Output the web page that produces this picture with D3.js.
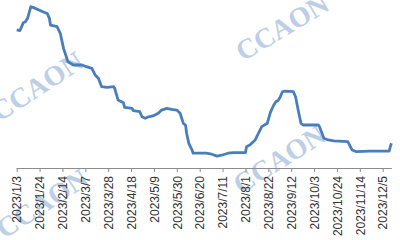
<!DOCTYPE html>
<html>
<head>
<meta charset="utf-8">
<script src="https://cdn.jsdelivr.net/npm/d3@7"></script>
<style>
  body { margin: 0; background: #fff; }
  svg { display: block; }
</style>
</head>
<body>
<div id="chart"></div>
<script>
// price series
var dates = [
  "2023-01-03", "2023-01-06", "2023-01-09", "2023-01-11", "2023-01-13", "2023-01-16", "2023-01-18",
  "2023-01-27", "2023-01-31", "2023-02-02", "2023-02-03", "2023-02-09", "2023-02-12", "2023-02-15",
  "2023-02-18", "2023-02-19", "2023-02-24", "2023-03-04", "2023-03-08", "2023-03-13", "2023-03-16",
  "2023-03-19", "2023-03-22", "2023-03-27", "2023-04-02", "2023-04-03", "2023-04-06", "2023-04-09",
  "2023-04-11", "2023-04-12", "2023-04-19", "2023-04-20", "2023-04-26", "2023-04-28", "2023-05-01",
  "2023-05-04", "2023-05-08", "2023-05-13", "2023-05-16", "2023-05-21", "2023-05-25", "2023-05-30",
  "2023-06-02", "2023-06-05", "2023-06-07", "2023-06-08", "2023-06-10", "2023-06-13", "2023-06-14",
  "2023-06-26", "2023-07-01", "2023-07-06", "2023-07-10", "2023-07-16", "2023-07-21", "2023-08-01",
  "2023-08-02", "2023-08-05", "2023-08-10", "2023-08-13", "2023-08-16", "2023-08-21", "2023-08-24",
  "2023-08-27", "2023-08-29", "2023-08-31", "2023-09-02", "2023-09-04", "2023-09-06", "2023-09-14",
  "2023-09-16", "2023-09-19", "2023-09-21", "2023-09-23", "2023-10-07", "2023-10-08", "2023-10-12",
  "2023-10-16", "2023-10-21", "2023-11-03", "2023-11-07", "2023-11-11", "2023-11-23", "2023-12-11",
  "2023-12-12", "2023-12-13"
];
var values = [
  8110, 8090, 8320, 8350, 8455, 8800, 8780,
  8650, 8600, 8455, 8255, 8205, 8010, 7560,
  7265, 7165, 7065, 7065, 7015, 6965, 6770,
  6670, 6420, 6400, 6420, 6370, 6025, 5975,
  5945, 5805, 5775, 5705, 5675, 5525, 5480,
  5525, 5550, 5630, 5725, 5775, 5745, 5725,
  5630, 5330, 5280, 5035, 4735, 4535, 4440,
  4440, 4410, 4355, 4380, 4440, 4455, 4455,
  4635, 4685, 4835, 5035, 5230, 5330, 5665,
  5875, 5975, 6005, 6120, 6270, 6290, 6270,
  6120, 5630, 5330, 5280, 5280, 5230, 4885,
  4835, 4805, 4785, 4535, 4485, 4505, 4505,
  4635, 4735
];
var tickLabels = [
  "2023/1/3", "2023/1/24", "2023/2/14", "2023/3/7", "2023/3/28", "2023/4/18", "2023/5/9",
  "2023/5/30", "2023/6/20", "2023/7/11", "2023/8/1", "2023/8/22", "2023/9/12", "2023/10/3",
  "2023/10/24", "2023/11/14", "2023/12/5"
];
var watermarks = ["CCAON", "CCAON", "CCAON", "CCAON"];

var ctx = {
  w: 400,
  h: 240,
  left: 16.7,
  right: 391.4,
  bottom: 168,
  top: 0
};

var parse = d3.timeParse("%Y-%m-%d");
var parseTick = d3.timeParse("%Y/%m/%d");

var data = dates.map(function (d, i) {
  return { date: parse(d), value: values[i] };
});

var svg = d3.select("#chart").append("svg")
  .attr("width", ctx.w)
  .attr("height", ctx.h);

// watermark text, behind everything (partly off the edges, as in the original)
var wmPos = [[282, 27, -31], [37, 86, -33], [279, 159, -32], [42, 203, -33]];
svg.append("g")
  .selectAll("text")
  .data(watermarks)
  .enter()
  .append("text")
  .attr("transform", function (d, i) {
    return "translate(" + wmPos[i][0] + "," + wmPos[i][1] + ") rotate(" + wmPos[i][2] + ")";
  })
  .attr("text-anchor", "middle")
  .attr("dy", "0.35em")
  .style("font-family", "'Liberation Serif', 'Times New Roman', serif")
  .style("font-weight", "bold")
  .style("font-size", "28px")
  .attr("fill", "#bccfe6")
  .text(function (d) { return d; });

var x = d3.scaleTime()
  .domain([parse("2023-01-03"), parse("2023-12-13")])
  .range([ctx.left, ctx.right]);

var y = d3.scaleLinear()
  .domain([4000, 9000])
  .range([ctx.bottom, ctx.top]);

var xAxis = d3.axisBottom(x)
  .tickValues(tickLabels.map(function (t) { return parseTick(t); }))
  .tickFormat(function (d, i) { return tickLabels[i]; })
  .tickSize(4)
  .tickSizeOuter(0);

var gx = svg.append("g")
  .attr("transform", "translate(0," + ctx.bottom + ")")
  .call(xAxis);

gx.select(".domain")
  .attr("stroke", "#8c8c8c")
  .attr("d", "M" + ctx.left + ",0.5H" + (ctx.right + 0.5));
gx.selectAll(".tick line").attr("stroke", "#8c8c8c");
gx.selectAll(".tick text")
  .attr("transform", "rotate(-90)")
  .attr("text-anchor", "end")
  .attr("x", -8)
  .attr("y", 0)
  .attr("dy", "0.35em")
  .attr("fill", "#333")
  .style("font-family", "'Liberation Sans', Arial, sans-serif")
  .style("font-size", "12px");

var line = d3.line()
  .x(function (d) { return x(d.date); })
  .y(function (d) { return y(d.value); });

svg.append("path")
  .datum(data)
  .attr("fill", "none")
  .attr("stroke", "#4a7ebb")
  .attr("stroke-width", 2.8)
  .attr("stroke-linejoin", "round")
  .attr("d", line);
</script>
</body>
</html>
